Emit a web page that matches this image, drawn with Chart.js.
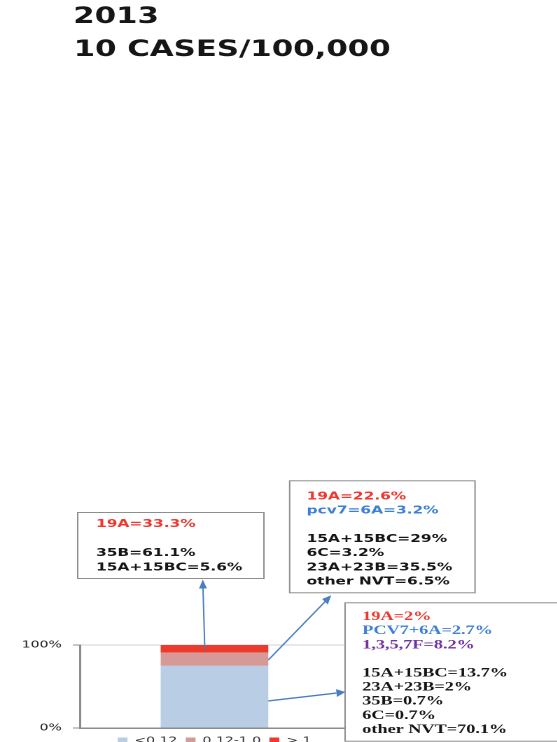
<!DOCTYPE html>
<html>
<head>
<meta charset="utf-8">
<script src="https://cdn.jsdelivr.net/npm/chart.js@4.4.1/dist/chart.umd.min.js"></script>
<style>
  html, body { margin: 0; padding: 0; background: #fff; overflow: hidden; }
  #chart { transform-origin: 0 0; }
</style>
</head>
<body>
<canvas id="chart" width="398" height="742"></canvas>
<script>
// ---- data ----
const categories = ['2013'];
const seriesNames = ['<0.12', '0.12-1.0', '> 1'];
const shareLow = [74.9];   // MIC < 0.12
const shareMid = [15.9];   // MIC 0.12-1.0
const shareHigh = [9.2];   // MIC > 1
const yTickValues = [0, 100];
const titleLines = ['2013', '10 CASES/100,000'];
const noteHigh = ['19A=33.3%', '', '35B=61.1%', '15A+15BC=5.6%'];
const noteMid = ['19A=22.6%', 'pcv7=6A=3.2%', '', '15A+15BC=29%', '6C=3.2%', '23A+23B=35.5%', 'other NVT=6.5%'];
const noteLow = ['19A=2%', 'PCV7+6A=2.7%', '1,3,5,7F=8.2%', '', '15A+15BC=13.7%', '23A+23B=2%', '35B=0.7%', '6C=0.7%', 'other NVT=70.1%'];

// ---- styling ----
const SX = 1.4; // horizontal stretch of the whole drawing
const canvas = document.getElementById('chart');
canvas.style.transform = 'scaleX(' + SX + ')';

const C = {
  low: '#B9CDE5', mid: '#D59A98', high: '#EC3A2C',
  red: '#F0362E', blue: '#3D7FD6', purple: '#7232A2', ink: '#161616',
  axis: '#8C8C8C', grid: '#D2D2D2', box: '#8E8E8E', arrow: '#4A7EBE'
};

const notes = [
  { lines: noteHigh, colors: [C.red, null, C.ink, C.ink],
    x: 55, y: 512, w: 133, h: 66, tx: 68.6, first: 12, step: 14.5,
    font: 'bold 11px "DejaVu Sans"' },
  { lines: noteMid, colors: [C.red, C.blue, null, C.ink, C.ink, C.ink, C.ink],
    x: 206.4, y: 480.3, w: 132.4, h: 112, tx: 219, first: 16.4, step: 14.15,
    font: 'bold 11px "DejaVu Sans"' },
  { lines: noteLow, colors: [C.red, C.blue, C.purple, null, C.ink, C.ink, C.ink, C.ink, C.ink],
    x: 246, y: 602.3, w: 220, h: 138.4, tx: 258.8, first: 14.4, step: 14.1,
    font: 'bold 13px "Liberation Serif"' }
];

function drawArrow(ctx, x0, y0, x1, y1) {
  const a = Math.atan2(y1 - y0, x1 - x0);
  const hl = 9, hw = 4;
  const bx = x1 - hl * Math.cos(a), by = y1 - hl * Math.sin(a);
  ctx.beginPath();
  ctx.moveTo(x0, y0);
  ctx.lineTo(bx, by);
  ctx.stroke();
  ctx.beginPath();
  ctx.moveTo(x1, y1);
  ctx.lineTo(bx + hw * Math.sin(a), by - hw * Math.cos(a));
  ctx.lineTo(bx - hw * Math.sin(a), by + hw * Math.cos(a));
  ctx.closePath();
  ctx.fill();
}

const annotations = {
  id: 'annotations',
  afterDraw(chart) {
    const ctx = chart.ctx;
    ctx.save();

    // heading
    ctx.fillStyle = C.ink;
    ctx.font = 'bold 22px "DejaVu Sans"';
    ctx.textBaseline = 'alphabetic';
    ctx.textAlign = 'left';
    ctx.fillText(titleLines[0], 52.3, 23);
    ctx.fillText(titleLines[1], 52.6, 56);

    // callout boxes
    notes.forEach(n => {
      ctx.fillStyle = '#fff';
      ctx.fillRect(n.x, n.y, n.w, n.h);
      ctx.strokeStyle = C.box;
      ctx.lineWidth = 1;
      ctx.strokeRect(n.x + 0.5, n.y + 0.5, n.w, n.h);
      ctx.font = n.font;
      ctx.textBaseline = 'middle';
      n.lines.forEach((t, i) => {
        if (!t) return;
        ctx.fillStyle = n.colors[i];
        ctx.fillText(t, n.tx, n.y + n.first + i * n.step);
      });
    });

    // arrows from the bar segments to their boxes (drawn unstretched)
    const seg = i => chart.getDatasetMeta(i).data[0].getProps(['x', 'y', 'base', 'width'], true);
    const lo = seg(0), md = seg(1), hi = seg(2);
    ctx.scale(1 / SX, 1);
    ctx.strokeStyle = C.arrow;
    ctx.fillStyle = C.arrow;
    ctx.lineWidth = 1.4;
    drawArrow(ctx, (hi.x - 0.09 * hi.width) * SX, (hi.y + hi.base) / 2,
      144.8 * SX, notes[0].y + notes[0].h + 1.5);
    drawArrow(ctx, (md.x + md.width / 2) * SX, md.y + 0.56 * (md.base - md.y),
      236.6 * SX, notes[1].y + notes[1].h + 3);
    drawArrow(ctx, (lo.x + lo.width / 2) * SX, lo.y + 0.57 * (lo.base - lo.y),
      notes[2].x * SX + 1, 692);
    ctx.restore();
  }
};

new Chart(canvas, {
  type: 'bar',
  data: {
    labels: categories,
    datasets: [
      { label: seriesNames[0], data: shareLow, backgroundColor: C.low },
      { label: seriesNames[1], data: shareMid, backgroundColor: C.mid },
      { label: seriesNames[2], data: shareHigh, backgroundColor: C.high }
    ]
  },
  options: {
    responsive: false,
    animation: false,
    devicePixelRatio: 2,
    layout: { padding: { top: 645, left: 0, right: 148.7, bottom: 0 } },
    datasets: { bar: { categoryPercentage: 0.8, barPercentage: 0.5, borderWidth: 0 } },
    scales: {
      x: {
        stacked: true,
        ticks: { display: false },
        grid: { display: false, drawTicks: true, tickLength: 2 },
        border: { display: true, color: C.axis, width: 1.5 }
      },
      y: {
        stacked: true,
        min: 0,
        max: 100,
        afterBuildTicks: s => { s.ticks = yTickValues.map(v => ({ value: v })); },
        afterFit: s => { s.width = 57.1; },
        ticks: {
          padding: 8,
          color: '#222',
          font: { family: '"DejaVu Sans"', size: 10 },
          callback: v => v + '%'
        },
        grid: { color: C.grid, tickColor: C.axis, tickLength: 5, lineWidth: 1 },
        border: { display: true, color: C.axis, width: 1.5 }
      }
    },
    plugins: {
      tooltip: { enabled: false },
      title: { display: false },
      legend: {
        position: 'bottom',
        fullSize: false,
        maxHeight: 12,
        labels: {
          boxWidth: 7,
          boxHeight: 7,
          padding: 6,
          color: '#333',
          font: { family: '"DejaVu Sans"', size: 10 }
        }
      }
    }
  },
  plugins: [annotations]
});
</script>
</body>
</html>
